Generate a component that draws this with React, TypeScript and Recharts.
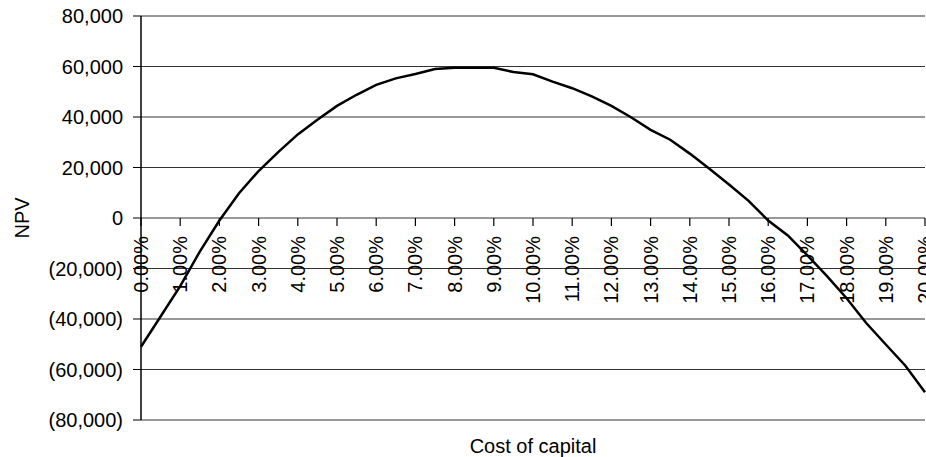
import React from "react";
import {
  LineChart,
  Line,
  XAxis,
  YAxis,
  CartesianGrid,
  ReferenceDot,
} from "recharts";

// cost of capital (%) and NPV
const rates = [
  0, 0.5, 1, 1.5, 2, 2.5, 3, 3.5, 4, 4.5, 5, 5.5, 6, 6.5, 7, 7.5, 8, 8.5, 9,
  9.5, 10, 10.5, 11, 11.5, 12, 12.5, 13, 13.5, 14, 14.5, 15, 15.5, 16, 16.5,
  17, 17.5, 18, 18.5, 19, 19.5, 20,
];
const npv = [
  -51000, -39000, -27000, -13300, -1000, 9800, 18600, 26100, 33100, 38900,
  44400, 48800, 52700, 55300, 57000, 59000, 59500, 59500, 59500, 57800, 56900,
  54000, 51400, 48200, 44400, 39900, 34900, 31000, 25500, 19500, 13300, 6800,
  -1000, -6900, -14800, -23000, -31800, -41600, -50100, -58500, -69000,
];
const xTicks = [
  0, 1, 2, 3, 4, 5, 6, 7, 8, 9, 10, 11, 12, 13, 14, 15, 16, 17, 18, 19, 20,
];
const yTicks = [-80000, -60000, -40000, -20000, 0, 20000, 40000, 60000, 80000];

const data = rates.map((r, i) => ({ rate: r, npv: npv[i] }));

const FONT = '"Liberation Sans", Arial, sans-serif';

const fmtY = (v: number) => {
  const s = Math.abs(v).toLocaleString("en-US");
  return v < 0 ? `(${s})` : s;
};
const fmtX = (v: number) => `${v.toFixed(2)}%`;

// tick mark + vertical label hanging under the zero line
function ZeroTick({ cx, cy, text }: { cx: number; cy: number; text: string }) {
  const ty = cy + 18;
  return (
    <g>
      <line x1={cx} y1={cy} x2={cx} y2={cy + 8} stroke="#000" strokeWidth={1.2} />
      <text
        x={cx}
        y={ty}
        transform={`rotate(-90, ${cx}, ${ty})`}
        textAnchor="end"
        dominantBaseline="central"
        fontSize={20}
        fontFamily={FONT}
        fill="#000"
      >
        {text}
      </text>
    </g>
  );
}

export default function App() {
  return (
    <div
      style={{
        position: "absolute",
        left: 0,
        top: 0,
        width: 926,
        height: 457,
        background: "#fff",
      }}
    >
      <LineChart
        width={926}
        height={457}
        data={data}
        margin={{ top: 16, right: 1, bottom: 0, left: 0 }}
      >
        <CartesianGrid vertical={false} stroke="#333" strokeWidth={1} />
        <XAxis
          dataKey="rate"
          type="number"
          domain={[0, 20]}
          ticks={xTicks}
          tick={false}
          axisLine={false}
          tickLine={false}
          height={37}
          label={{
            value: "Cost of capital",
            position: "insideBottom",
            offset: 4,
            fontSize: 20,
            fontFamily: FONT,
            fill: "#000",
          }}
        />
        <YAxis
          type="number"
          domain={[-80000, 80000]}
          ticks={yTicks}
          tickFormatter={fmtY}
          width={141}
          tickSize={8}
          tickMargin={10}
          tick={{ fill: "#000", fontSize: 20, fontFamily: FONT }}
          axisLine={{ stroke: "#000", strokeWidth: 1.5 }}
          tickLine={{ stroke: "#000" }}
          label={{
            content: (props: any) => {
              const vb = props.viewBox || {};
              const x = vb.x + 22;
              const y = vb.y + vb.height / 2;
              return (
                <text
                  x={x}
                  y={y}
                  transform={`rotate(-90, ${x}, ${y})`}
                  textAnchor="middle"
                  dominantBaseline="central"
                  fontSize={20}
                  fontFamily={FONT}
                  fill="#000"
                >
                  NPV
                </text>
              );
            },
          }}
        />
        {xTicks.map((t) => (
          <ReferenceDot
            key={t}
            x={t}
            y={0}
            ifOverflow="visible"
            shape={(p: any) => <ZeroTick cx={p.cx} cy={p.cy} text={fmtX(t)} />}
          />
        ))}
        <Line
          type="linear"
          dataKey="npv"
          stroke="#000"
          strokeWidth={2.5}
          dot={false}
          isAnimationActive={false}
        />
      </LineChart>
    </div>
  );
}
